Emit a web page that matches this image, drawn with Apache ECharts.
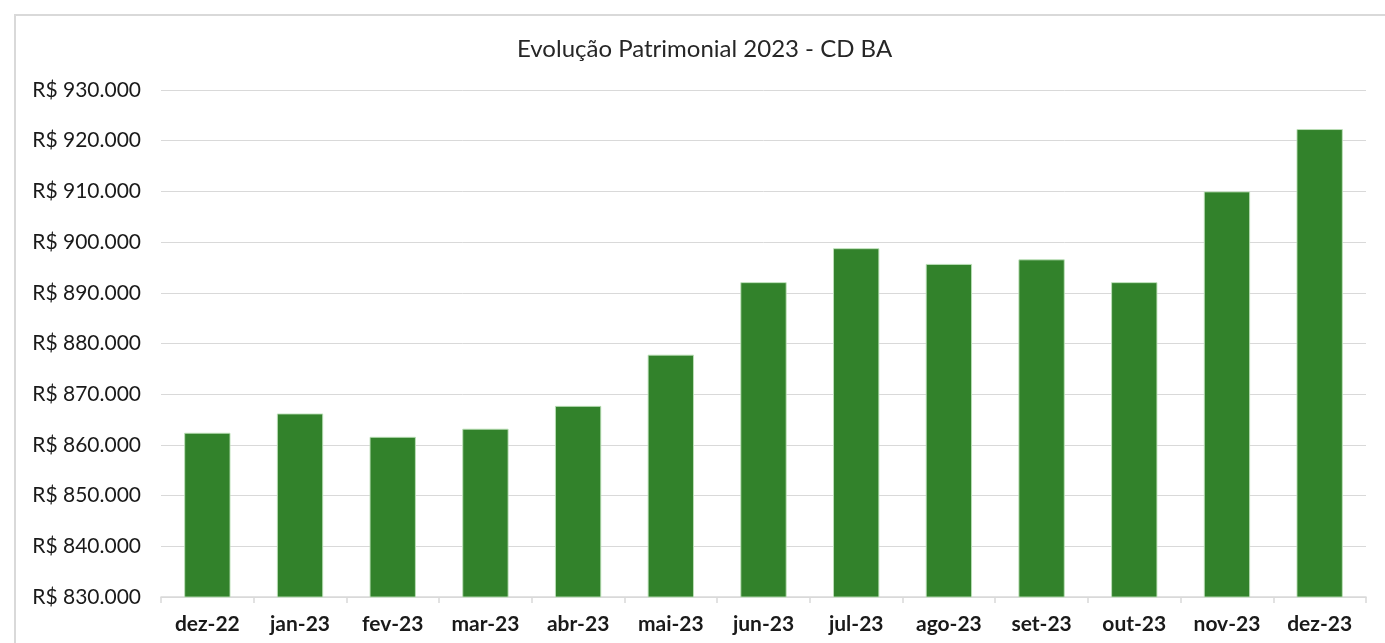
<!DOCTYPE html>
<html>
<head>
<meta charset="utf-8">
<script src="https://cdn.jsdelivr.net/npm/echarts@6/dist/echarts.min.js"></script>
<style>
  html, body { margin: 0; padding: 0; background: #fff; overflow: hidden; }
  .frame {
    position: absolute; left: 14px; top: 14px;
    width: 1420px; height: 700px;
    border: 2px solid #d9d9d9;
  }
  .charts { position: absolute; left: 0; top: 0; width: 1385px; height: 643px; }
</style>
</head>
<body>
<div class="frame"></div>
<div class="charts" id="main"></div>
<script>
const categories = ["dez-22", "jan-23", "fev-23", "mar-23", "abr-23", "mai-23", "jun-23",
  "jul-23", "ago-23", "set-23", "out-23", "nov-23", "dez-23"];
const patrimonio = [862400, 866200, 861600, 863200, 867700, 877800, 892100,
  898800, 895700, 896600, 892100, 910000, 922300];
const yMin = 830000;
const yMax = 930000;
const yStep = 10000;

function brl(val) {
  return "R$ " + String(Math.round(val)).replace(/\B(?=(\d{3})+(?!\d))/g, ".");
}

const myChart = echarts.init(document.getElementById("main"));
const option = {
  animation: false,
  title: {
    text: "Evolução Patrimonial 2023 - CD BA",
    left: 512,
    top: 32,
    textStyle: {
      fontFamily: "Lato",
      fontSize: 24,
      fontWeight: "normal",
      color: "#262626",
    },
  },
  grid: {
    left: 161,
    right: 19,
    top: 90,
    bottom: 46,
  },
  xAxis: {
    type: "category",
    data: categories,
    axisLine: { lineStyle: { color: "#d9d9d9", width: 1.5 } },
    axisTick: { show: true, length: 6, lineStyle: { color: "#d9d9d9", width: 1.5 } },
    axisLabel: {
      fontFamily: "Lato",
      fontSize: 21,
      fontWeight: "bold",
      color: "#1a1a1a",
      margin: 17,
    },
  },
  yAxis: {
    type: "value",
    min: yMin,
    max: yMax,
    interval: yStep,
    axisLine: { show: false },
    axisTick: { show: false },
    splitLine: { lineStyle: { color: "#d9d9d9", width: 1 } },
    axisLabel: {
      fontFamily: "Lato",
      fontSize: 21,
      color: "#1a1a1a",
      margin: 20,
      formatter: brl,
    },
  },
  series: [
    {
      name: "Patrimônio",
      type: "bar",
      barCategoryGap: "50%",
      itemStyle: {
        color: "#32822b",
        borderColor: "rgba(190,225,185,0.9)",
        borderWidth: 1,
      },
      data: patrimonio,
    },
  ],
};
myChart.setOption(option);
</script>
</body>
</html>
